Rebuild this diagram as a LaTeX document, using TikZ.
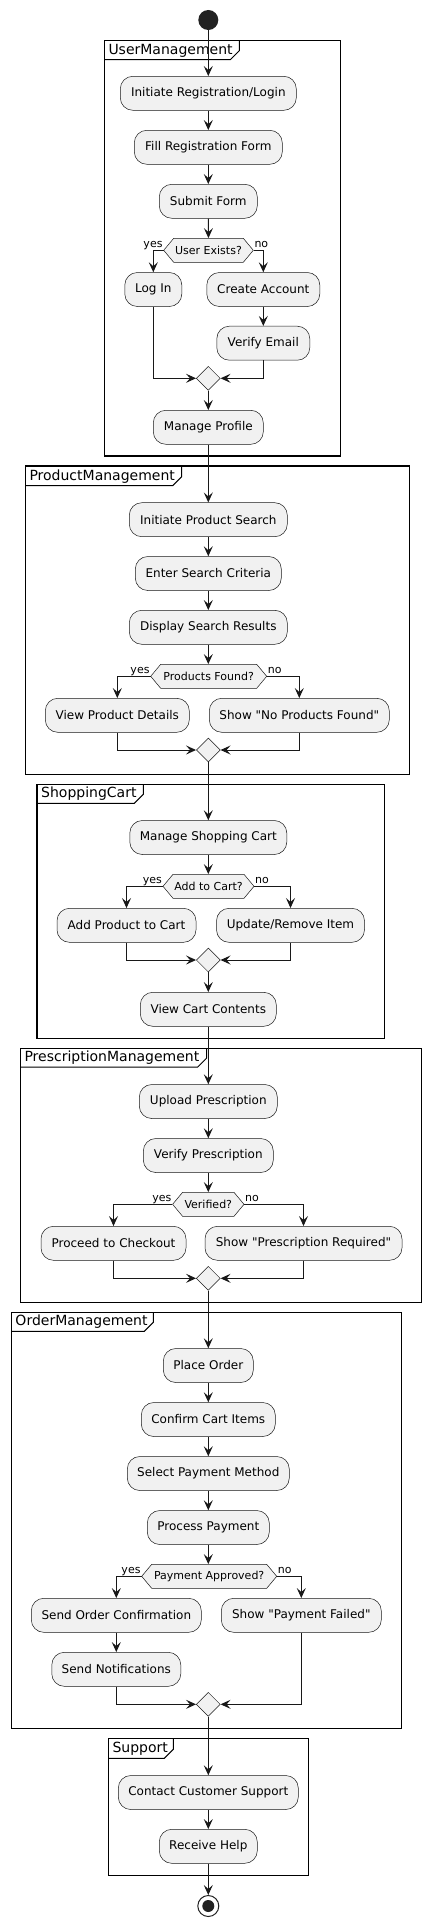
\documentclass[tikz,border=0pt]{standalone}
\usepackage{fontspec}
\setmainfont{DejaVu Sans}[Ligatures=TeXOff]
\usetikzlibrary{arrows.meta,shapes.geometric}
\definecolor{actfill}{HTML}{F1F1F1}
\definecolor{actline}{HTML}{181818}
\definecolor{startcol}{HTML}{222222}
\newcommand{\dq}{{\char34}}
\tikzset{
  act/.style={draw=actline, fill=actfill, line width=0.5pt, rounded corners=12.5pt,
    minimum height=34pt, inner sep=0pt, font=\fontsize{12}{14}\selectfont, text=black},
  hexfill/.style={draw=actline, fill=actfill, line width=0.5pt},
  hextext/.style={inner sep=0pt, minimum height=24pt, font=\fontsize{11}{13}\selectfont},
  merge/.style={diamond, aspect=1, draw=actline, fill=actfill, line width=0.5pt,
    minimum width=24pt, minimum height=24pt, inner sep=0pt},
  arr/.style={draw=actline, line width=1pt, -{Stealth[length=10pt,width=9pt,inset=4pt]}},
  framebox/.style={draw=black, line width=1.5pt},
  tabline/.style={draw=black, line width=1pt},
  frametitle/.style={anchor=base west, inner sep=0pt, font=\fontsize{14}{16}\selectfont},
  branchlbl/.style={inner sep=0pt, font=\fontsize{11}{13}\selectfont},
}
% name, x, y, halfwidth, text
\newcommand{\hexdec}[5]{%
  \draw[hexfill] ({#2-#4},{#3}) -- ({#2-#4+10},{#3-12}) -- ({#2+#4-10},{#3-12}) --
    ({#2+#4},{#3}) -- ({#2+#4-10},{#3+12}) -- ({#2-#4+10},{#3+12}) -- cycle;
  \node[hextext, minimum width={2*#4}] (#1) at (#2,#3) {#5};
  \node[branchlbl, anchor=base east] (#1yes) at ({#2-#4-1},{#3-2.5}) {yes};
  \node[branchlbl, anchor=base west] (#1no) at ({#2+#4+1},{#3-2.5}) {no};
}
% name, left, top, right, bottom, tabbottom, tabright, title
\newcommand{\umlframe}[8]{%
  \draw[framebox] (#2,#3) rectangle (#4,#5);
  \draw[tabline] (#2,#6) -- ({#7-9},#6) -- (#7,{#6-9}) -- (#7,#3);
  \node[frametitle] (#1) at ({#2+4},{#6-5.4}) {#8};
}
\begin{document}
\begin{tikzpicture}[x=1pt,y=-1pt]
\useasboundingbox (0,0) rectangle (431,1927);
% frames
\umlframe{f1}{104.3}{40.7}{340.7}{456}{59.7}{239.3}{UserManagement}
\umlframe{f2}{25.3}{466}{409.3}{774.3}{485.7}{181.7}{ProductManagement}
\umlframe{f3}{37}{784.3}{384.7}{1038.3}{803.3}{143.3}{ShoppingCart}
\umlframe{f4}{20.3}{1048.3}{421.7}{1302.3}{1067}{206.7}{PrescriptionManagement}
\umlframe{f5}{11.3}{1312.3}{401.7}{1728.3}{1331.3}{153.3}{OrderManagement}
\umlframe{f6}{108.3}{1738.3}{308.7}{1875.3}{1758.3}{173.3}{Support}

% start
\node[circle, fill=startcol, minimum size=20pt, inner sep=0pt] (start) at (208.3,20) {};

% UserManagement
\node[act, minimum width=176pt] (a1) at (208.3,93.3) {Initiate Registration/Login};
\node[act, minimum width=148pt] (a2) at (208.3,147.3) {Fill Registration Form};
\node[act, minimum width=98pt] (a3) at (208.3,201.3) {Submit Form};
\hexdec{d1}{208.5}{250.3}{44.8}{User Exists?}
\node[act, minimum width=57pt] (l1) at (153.3,289.5) {Log In};
\node[act, minimum width=113pt] (c1) at (263.3,289.5) {Create Account};
\node[act, minimum width=93pt] (v1) at (263.3,343.2) {Verify Email};
\node[merge] (m1) at (208.3,378.3) {};
\node[act, minimum width=110pt] (mp) at (208.3,427.3) {Manage Profile};

% ProductManagement
\node[act, minimum width=158pt] (p1) at (208.3,519.7) {Initiate Product Search};
\node[act, minimum width=146pt] (p2) at (208.3,573.5) {Enter Search Criteria};
\node[act, minimum width=158pt] (p3) at (208.3,627.3) {Display Search Results};
\hexdec{d2}{208.7}{676.3}{58}{Products Found?}
\node[act, minimum width=144pt] (p4) at (117.3,715.3) {View Product Details};
\node[act, minimum width=180pt] (p5) at (299.3,715.3) {Show "No Products Found"};
\node[merge] (m2) at (208.3,750) {};

% ShoppingCart
\node[act, minimum width=157pt] (s1) at (208.3,837.5) {Manage Shopping Cart};
\hexdec{d3}{208.5}{886.3}{45.5}{Add to Cart?}
\node[act, minimum width=139pt] (s2) at (126.5,925.3) {Add Product to Cart};
\node[act, minimum width=148pt] (s3) at (290.5,925.3) {Update/Remove Item};
\node[merge] (m3) at (208.3,960) {};
\node[act, minimum width=136pt] (s4) at (208.3,1009.3) {View Cart Contents};

% PrescriptionManagement
\node[act, minimum width=138pt] (r1) at (208.3,1101.5) {Upload Prescription};
\node[act, minimum width=130pt] (r2) at (208.3,1155.5) {Verify Prescription};
\hexdec{d4}{208.3}{1204.3}{35.7}{Verified?}
\node[act, minimum width=145pt] (r3) at (113.5,1243.3) {Proceed to Checkout};
\node[act, minimum width=197pt] (r4) at (303.5,1243.3) {Show "Prescription Required"};
\node[merge] (m4) at (208.3,1278.3) {};

% OrderManagement
\node[act, minimum width=90pt] (o1) at (208.3,1365.5) {Place Order};
\node[act, minimum width=134pt] (o2) at (208.3,1419.5) {Confirm Cart Items};
\node[act, minimum width=162pt] (o3) at (208.3,1473.5) {Select Payment Method};
\node[act, minimum width=122pt] (o4) at (208.3,1527.5) {Process Payment};
\hexdec{d5}{209.2}{1576.3}{67.5}{Payment Approved?}
\node[act, minimum width=170pt] (o5) at (116.3,1615.3) {Send Order Confirmation};
\node[act, minimum width=160pt] (o6) at (301.3,1615.3) {Show "Payment Failed"};
\node[act, minimum width=129pt] (o7) at (116.3,1669.3) {Send Notifications};
\node[merge] (m5) at (208.3,1704.3) {};

% Support
\node[act, minimum width=180pt] (u1) at (208.3,1792.5) {Contact Customer Support};
\node[act, minimum width=98pt] (u2) at (208.3,1846.3) {Receive Help};

% end
\node[circle, draw=startcol, line width=1pt, fill=white, minimum size=21pt, inner sep=0pt] (stop) at (208.3,1906) {};
\fill[startcol] (stop.center) circle[radius=6pt];

% connectors
\draw[arr] (start) -- (a1);
\draw[arr] (a1) -- (a2);
\draw[arr] (a2) -- (a3);
\draw[arr] (a3) -- (d1);
\draw[arr] (d1.west) -| (l1.north);
\draw[arr] (d1.east) -| (c1.north);
\draw[arr] (c1) -- (v1);
\draw[arr] (l1.south) |- (m1.west);
\draw[arr] (v1.south) |- (m1.east);
\draw[arr] (m1) -- (mp);
\draw[arr] (mp) -- (p1);

\draw[arr] (p1) -- (p2);
\draw[arr] (p2) -- (p3);
\draw[arr] (p3.south) -- (p3.south |- d2.north);
\draw[arr] (d2.west) -| (p4.north);
\draw[arr] (d2.east) -| (p5.north);
\draw[arr] (p4.south) |- (m2.west);
\draw[arr] (p5.south) |- (m2.east);
\draw[arr] (m2) -- (s1);

\draw[arr] (s1.south) -- (s1.south |- d3.north);
\draw[arr] (d3.west) -| (s2.north);
\draw[arr] (d3.east) -| (s3.north);
\draw[arr] (s2.south) |- (m3.west);
\draw[arr] (s3.south) |- (m3.east);
\draw[arr] (m3) -- (s4);
\draw[arr] (s4) -- (r1);

\draw[arr] (r1) -- (r2);
\draw[arr] (r2) -- (d4);
\draw[arr] (d4.west) -| (r3.north);
\draw[arr] (d4.east) -| (r4.north);
\draw[arr] (r3.south) |- (m4.west);
\draw[arr] (r4.south) |- (m4.east);
\draw[arr] (m4) -- (o1);

\draw[arr] (o1) -- (o2);
\draw[arr] (o2) -- (o3);
\draw[arr] (o3) -- (o4);
\draw[arr] (o4.south) -- (o4.south |- d5.north);
\draw[arr] (d5.west) -| (o5.north);
\draw[arr] (d5.east) -| (o6.north);
\draw[arr] (o5) -- (o7);
\draw[arr] (o7.south) |- (m5.west);
\draw[arr] (o6.south) |- (m5.east);
\draw[arr] (m5) -- (u1);

\draw[arr] (u1) -- (u2);
\draw[arr] (u2) -- (stop);
\end{tikzpicture}
\end{document}
